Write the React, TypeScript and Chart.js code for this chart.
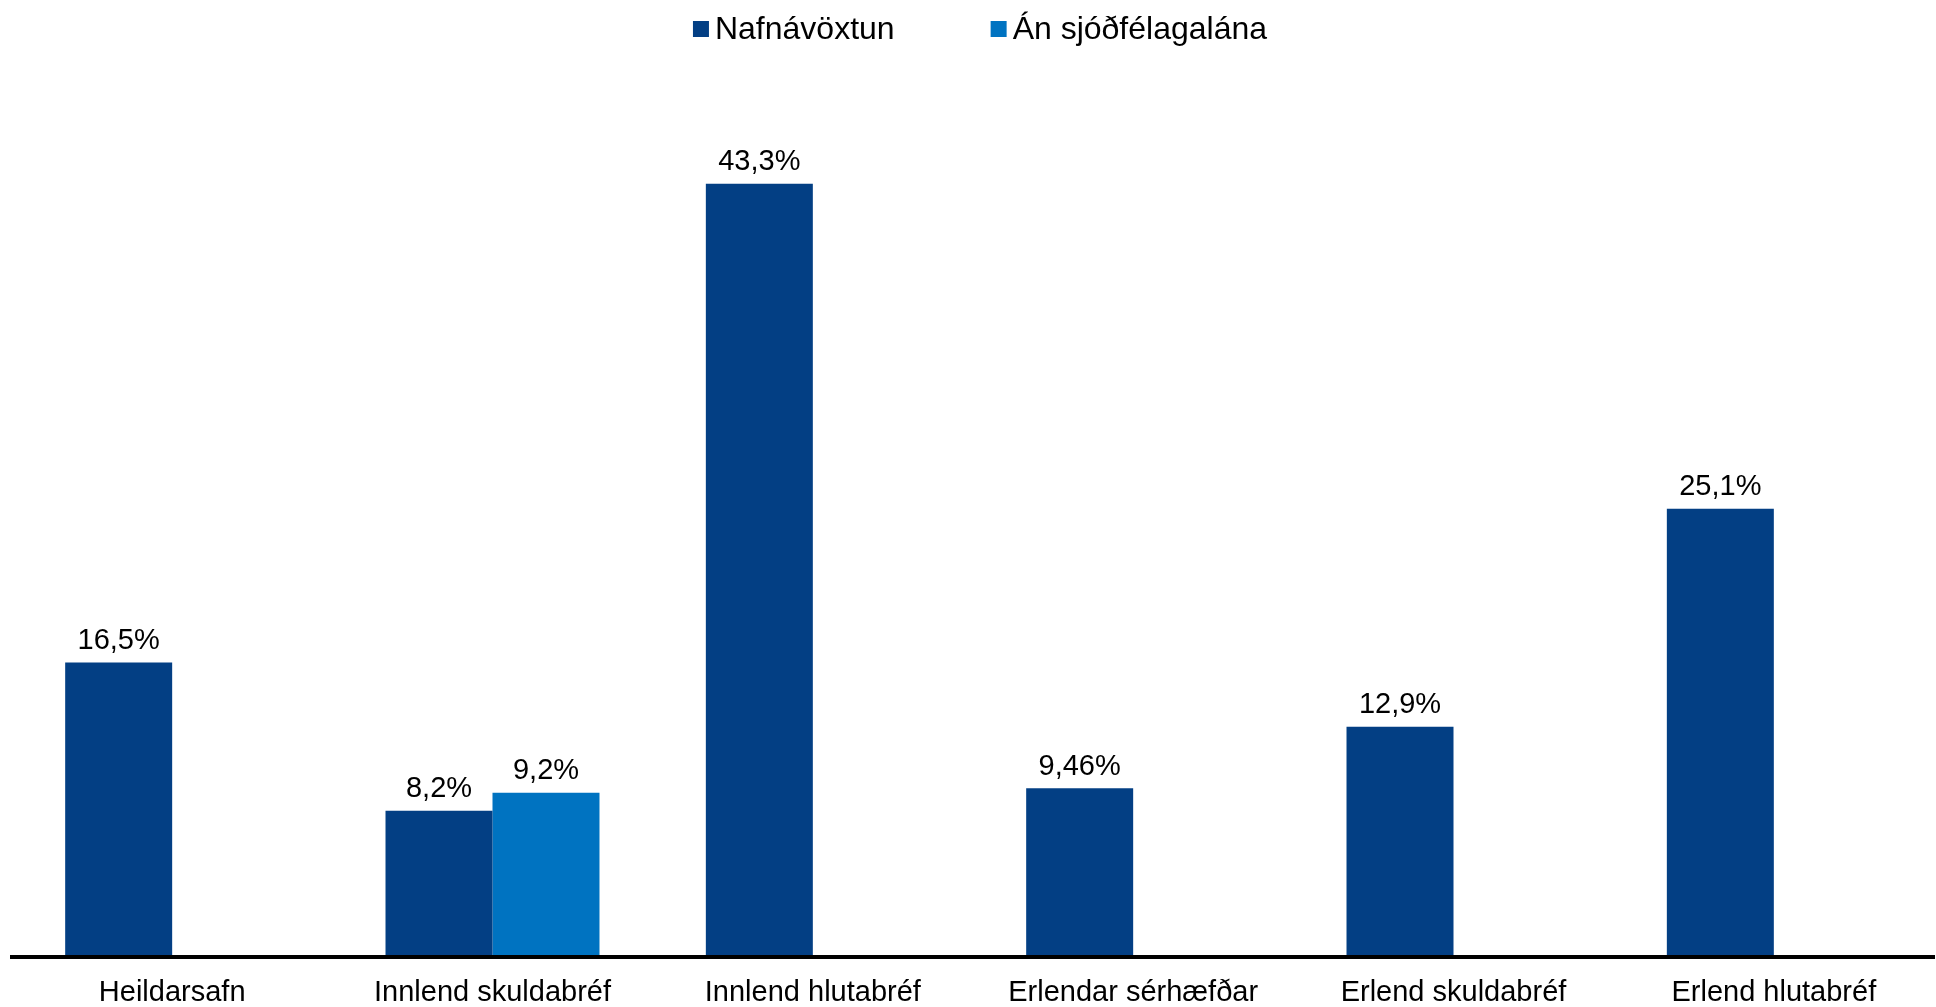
import React, { useEffect, useRef } from "react";
import { Chart, registerables } from "chart.js";

Chart.register(...registerables);

const categories = [
  "Heildarsafn",
  "Innlend skuldabréf",
  "Innlend hlutabréf",
  "Erlendar sérhæfðar",
  "Erlend skuldabréf",
  "Erlend hlutabréf",
];
const nafnavoxtun = [16.5, 8.2, 43.3, 9.46, 12.9, 25.1];
const anSjodfelagalana = [null, 9.2, null, null, null, null];
const seriesNames = ["Nafnávöxtun", "Án sjóðfélagalána"];
const seriesColors = ["#033f84", "#0073c1"];

const FONT = "'Liberation Sans', Arial, Helvetica, sans-serif";

const fmt = (v: number) => String(v).replace(".", ",") + "%";

const labelsPlugin = {
  id: "valueLabels",
  afterDatasetsDraw(chart: any) {
    const ctx = chart.ctx;
    ctx.save();
    ctx.font = `29px ${FONT}`;
    ctx.fillStyle = "#000";
    ctx.textAlign = "center";
    ctx.textBaseline = "bottom";
    chart.data.datasets.forEach((ds: any, di: number) => {
      const meta = chart.getDatasetMeta(di);
      meta.data.forEach((bar: any, i: number) => {
        const v = ds.data[i];
        if (v === null || v === undefined) return;
        ctx.fillText(fmt(v), bar.x, bar.y - 7);
      });
    });
    ctx.restore();
  },
};

const legendPlugin = {
  id: "customLegend",
  afterDraw(chart: any) {
    const ctx = chart.ctx;
    ctx.save();
    ctx.font = `32px ${FONT}`;
    ctx.textBaseline = "middle";
    ctx.textAlign = "left";
    const box = 16;
    const gapText = 6;
    const gapItem = 96;
    const items = chart.data.datasets.map((ds: any) => ({
      text: ds.label,
      color: ds.backgroundColor,
      w: ctx.measureText(ds.label).width,
    }));
    let total = 0;
    items.forEach((it: any, i: number) => {
      total += box + gapText + it.w + (i > 0 ? gapItem : 0);
    });
    let x = chart.width / 2 + 12 - total / 2;
    const y = 29;
    items.forEach((it: any) => {
      ctx.fillStyle = it.color;
      ctx.fillRect(x, y - box / 2, box, box);
      ctx.fillStyle = "#000";
      ctx.fillText(it.text, x + box + gapText, y + 1);
      x += box + gapText + it.w + gapItem;
    });
    ctx.restore();
  },
};

export default function App() {
  const ref = useRef<HTMLCanvasElement | null>(null);
  useEffect(() => {
    if (!ref.current) return;
    const chart = new Chart(ref.current, {
      type: "bar",
      data: {
        labels: categories,
        datasets: [
          {
            label: seriesNames[0],
            data: nafnavoxtun,
            backgroundColor: seriesColors[0],
            categoryPercentage: 0.668,
            barPercentage: 1.0,
          },
          {
            label: seriesNames[1],
            data: anSjodfelagalana as any,
            backgroundColor: seriesColors[1],
            categoryPercentage: 0.668,
            barPercentage: 1.0,
          },
        ],
      },
      options: {
        animation: false,
        responsive: true,
        maintainAspectRatio: false,
        layout: { padding: { left: 12, right: 2, top: 64, bottom: 0 } },
        plugins: {
          legend: { display: false },
          tooltip: { enabled: false },
        },
        scales: {
          x: {
            grid: { display: false, drawTicks: false },
            border: { display: true, color: "#000", width: 4, z: 1 },
            ticks: {
              color: "#000",
              font: { family: FONT, size: 29 },
              padding: 18,
              maxRotation: 0,
              autoSkip: false,
            },
          },
          y: {
            display: false,
            min: 0,
            max: 50,
          },
        },
      },
      plugins: [labelsPlugin, legendPlugin],
    });
    return () => chart.destroy();
  }, []);
  return (
    <div style={{ position: "absolute", left: 0, top: 0, width: 1936, height: 1007, overflow: "hidden", background: "#fff" }}>
      <div style={{ position: "relative", width: 1936, height: 1028 }}>
        <canvas ref={ref} />
      </div>
    </div>
  );
}
